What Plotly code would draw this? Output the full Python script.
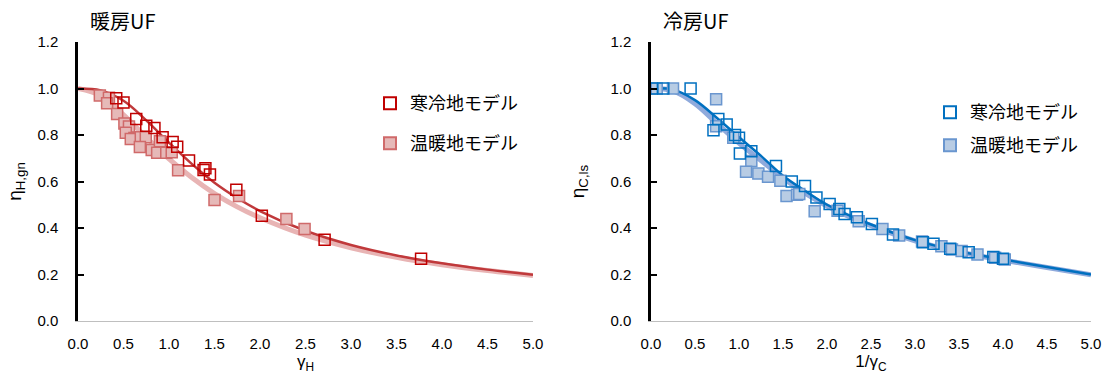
import plotly.graph_objects as go

# ---- 暖房 (heating) gain utilisation factor ----
heat_cold_x = [0.42, 0.50, 0.64, 0.75, 0.84, 0.93, 1.04, 1.09, 1.22, 1.38, 1.40, 1.45, 1.74, 2.02, 2.71, 3.77]
heat_cold_y = [0.958, 0.94, 0.869, 0.84, 0.83, 0.79, 0.77, 0.75, 0.69, 0.65, 0.657, 0.63, 0.564, 0.453, 0.349, 0.268]
heat_warm_x = [0.24, 0.34, 0.32, 0.43, 0.51, 0.56, 0.525, 0.62, 0.58, 0.69, 0.745, 0.68, 0.81, 0.90, 0.87, 0.97, 1.03, 1.10, 1.50, 1.77, 2.29, 2.49]
heat_warm_y = [0.97, 0.96, 0.937, 0.89, 0.85, 0.837, 0.81, 0.787, 0.783, 0.79, 0.79, 0.748, 0.736, 0.773, 0.724, 0.724, 0.726, 0.648, 0.52, 0.538, 0.439, 0.396]

curve_x = [0.0, 0.25, 0.5, 0.75, 1.0, 1.25, 1.5, 1.75, 2.0, 2.5, 3.0, 3.5, 4.0, 4.5, 5.0]
heat_cold_curve = [1.0, 0.992, 0.947, 0.863, 0.767, 0.676, 0.595, 0.529, 0.473, 0.388, 0.327, 0.282, 0.248, 0.221, 0.199]
heat_warm_curve = [1.0, 0.969, 0.887, 0.790, 0.697, 0.617, 0.548, 0.491, 0.444, 0.369, 0.315, 0.274, 0.242, 0.217, 0.196]

# ---- 冷房 (cooling) loss utilisation factor ----
cool_cold_x = [0.01, 0.14, 0.45, 0.765, 0.86, 0.71, 0.955, 1.00, 1.01, 1.14, 1.42, 1.60,
               1.75, 1.88, 2.03, 2.14, 2.20, 2.34, 2.51, 2.75, 3.09, 3.21, 3.40, 3.61, 3.89, 4.00]
cool_cold_y = [1.0, 1.0, 1.0, 0.869, 0.845, 0.82, 0.80, 0.788, 0.72, 0.73, 0.667, 0.60,
               0.581, 0.531, 0.503, 0.482, 0.46, 0.446, 0.417, 0.372, 0.339, 0.332, 0.311, 0.296, 0.275, 0.268]
cool_warm_x = [0.065, 0.25, 0.74, 0.74, 0.935, 1.14, 1.08, 1.22, 1.33, 1.47, 1.54, 1.66,
               1.685, 1.86, 2.12, 2.36, 2.63, 2.82, 3.08, 3.30, 3.42, 3.53, 3.71, 3.91, 4.02]
cool_warm_y = [1.0, 1.0, 0.954, 0.838, 0.788, 0.688, 0.642, 0.634, 0.62, 0.603, 0.538, 0.543,
               0.546, 0.472, 0.474, 0.429, 0.396, 0.368, 0.342, 0.321, 0.308, 0.301, 0.286, 0.272, 0.264]

cool_cold_curve = [1.0, 0.995, 0.95, 0.873, 0.79, 0.71, 0.625, 0.56, 0.50, 0.415, 0.348, 0.30, 0.265, 0.232, 0.20]
cool_warm_curve = [1.0, 0.99, 0.935, 0.85, 0.765, 0.69, 0.615, 0.55, 0.495, 0.41, 0.345, 0.297, 0.262, 0.23, 0.199]

tick_vals_x = [0, 0.5, 1, 1.5, 2, 2.5, 3, 3.5, 4, 4.5, 5]
tick_vals_y = [0, 0.2, 0.4, 0.6, 0.8, 1.0, 1.2]

RED_DARK = "#C0393B"
RED_LIGHT = "#E8B4B4"
BLUE_DARK = "#0070C0"
BLUE_LIGHT = "#8FAADC"
LABEL_FONT = "Liberation Sans, Arial"
JP_FONT = "Noto Sans CJK JP"

fig = go.Figure()

# heating curves and points
fig.add_trace(go.Scatter(x=curve_x, y=heat_warm_curve, mode="lines", line=dict(color=RED_LIGHT, width=5, shape="spline"),
                         showlegend=False, xaxis="x", yaxis="y"))
fig.add_trace(go.Scatter(x=curve_x, y=heat_cold_curve, mode="lines", line=dict(color=RED_DARK, width=2.5, shape="spline"),
                         showlegend=False, xaxis="x", yaxis="y"))
fig.add_trace(go.Scatter(x=heat_warm_x, y=heat_warm_y, mode="markers", name="温暖地モデル",
                         marker=dict(symbol="square", size=11, color="#E6B9B8", line=dict(color="#D06A6A", width=1.5)),
                         xaxis="x", yaxis="y", legend="legend2"))
fig.add_trace(go.Scatter(x=heat_cold_x, y=heat_cold_y, mode="markers", name="寒冷地モデル",
                         marker=dict(symbol="square-open", size=11, color="#C00000", line=dict(width=1.5)),
                         xaxis="x", yaxis="y", legend="legend"))

# cooling curves and points
fig.add_trace(go.Scatter(x=curve_x, y=cool_warm_curve, mode="lines", line=dict(color=BLUE_LIGHT, width=5, shape="spline"),
                         showlegend=False, xaxis="x2", yaxis="y2"))
fig.add_trace(go.Scatter(x=curve_x, y=cool_cold_curve, mode="lines", line=dict(color=BLUE_DARK, width=2.5, shape="spline"),
                         showlegend=False, xaxis="x2", yaxis="y2"))
fig.add_trace(go.Scatter(x=cool_warm_x, y=cool_warm_y, mode="markers", name="温暖地モデル",
                         marker=dict(symbol="square", size=11, color="#B8CCE4", line=dict(color="#6A96CF", width=1.5)),
                         xaxis="x2", yaxis="y2", legend="legend4"))
fig.add_trace(go.Scatter(x=cool_cold_x, y=cool_cold_y, mode="markers", name="寒冷地モデル",
                         marker=dict(symbol="square-open", size=11, color=BLUE_DARK, line=dict(width=1.5)),
                         xaxis="x2", yaxis="y2", legend="legend3"))

W, H = 1115, 376
ydom = [(H - 321) / H, (H - 42) / H]

axis_common = dict(range=[0, 5], tickvals=tick_vals_x, tickformat=".1f", showgrid=False, zeroline=False,
                   showline=True, linecolor="#BFBFBF", linewidth=1, ticks="", automargin=False,
                   ticklabelstandoff=9, tickfont=dict(family=LABEL_FONT, size=15, color="#000"))
yaxis_common = dict(range=[0, 1.2], tickvals=tick_vals_y, tickformat=".1f", showgrid=False, zeroline=False,
                    showline=True, linecolor="#000", linewidth=2.5, ticks="inside", ticklen=6, tickwidth=1.5,
                    tickcolor="#000", automargin=False, ticklabelstandoff=14,
                    tickfont=dict(family=LABEL_FONT, size=15, color="#000"))


def legend_box(x_px, y_px):
    return dict(x=x_px / W, y=1 - y_px / H, xanchor="left", yanchor="top", bgcolor="rgba(0,0,0,0)",
                font=dict(family=JP_FONT, size=18, color="#000"), itemwidth=30, itemsizing="constant")


fig.update_layout(
    width=W, height=H, margin=dict(l=0, r=0, t=0, b=0),
    paper_bgcolor="white", plot_bgcolor="white",
    xaxis=dict(domain=[78 / W, 533 / W], anchor="y",
               title=dict(text="γ<sub>H</sub>", font=dict(family=LABEL_FONT, size=17, color="#000"), standoff=4),
               **axis_common),
    yaxis=dict(domain=ydom, anchor="x",
               title=dict(text="η<sub>H,gn</sub>", font=dict(family=LABEL_FONT, size=19, color="#000"), standoff=11),
               **yaxis_common),
    xaxis2=dict(domain=[651 / W, 1091 / W], anchor="y2",
                title=dict(text="1/γ<sub>C</sub>", font=dict(family=LABEL_FONT, size=17, color="#000"), standoff=4),
                **axis_common),
    yaxis2=dict(domain=ydom, anchor="x2",
                title=dict(text="η<sub>C,ls</sub>", font=dict(family=LABEL_FONT, size=19, color="#000"), standoff=21),
                **yaxis_common),
    legend=legend_box(370, 85),
    legend2=legend_box(370, 125),
    legend3=legend_box(930, 94),
    legend4=legend_box(930, 127),
    annotations=[
        dict(text="暖房UF", x=88 / W, y=1 - 20 / H, xref="paper", yref="paper", showarrow=False,
             xanchor="left", yanchor="middle", font=dict(family=JP_FONT, size=20, color="#000")),
        dict(text="冷房UF", x=661 / W, y=1 - 20 / H, xref="paper", yref="paper", showarrow=False,
             xanchor="left", yanchor="middle", font=dict(family=JP_FONT, size=20, color="#000")),
    ],
)

fig.write_html("out.html")
